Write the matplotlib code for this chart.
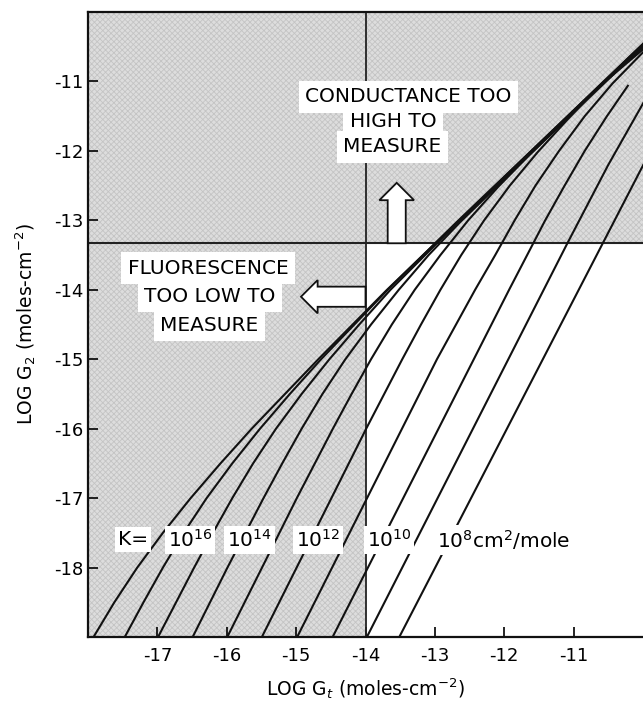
import matplotlib
matplotlib.use('Agg')
import matplotlib.pyplot as plt
from matplotlib.patches import FancyArrow

plt.rcParams['axes.unicode_minus'] = False
plt.rcParams['font.family'] = ['DejaVu Sans']
plt.rcParams['hatch.linewidth'] = 0.6

# ---- axes ranges and limits (log units) ----
x_range = [-18, -10]
y_range = [-19, -10]
fluor_limit_x = -14.0      # fluorescence too low to measure (left)
cond_limit_y = -13.33      # conductance too high to measure (above)

x_ticks = [-17, -16, -15, -14, -13, -12, -11]
y_ticks = [-11, -12, -13, -14, -15, -16, -17, -18]

# ---- curves: log G2 vs log Gt, one per K ----
k_exponents = [17, 16, 15, 14, 13, 12, 11, 10, 9, 8]

curve_k17_x = [-18.20, -17.92, -17.62, -17.29, -16.92, -16.52, -16.09, -15.64, -14.68, -13.69, -9.99]
curve_k17_y = [-19.5, -19.0, -18.5, -18.0, -17.5, -17.0, -16.5, -16.0, -15.0, -14.0, -10.45]
curve_k16_x = [-17.99, -17.47, -17.20, -16.92, -16.62, -16.29, -15.92, -15.52, -15.09, -14.64, -13.68, -12.69, -9.99]
curve_k16_y = [-20.0, -19.0, -18.5, -18.0, -17.5, -17.0, -16.5, -16.0, -15.5, -15.0, -14.0, -13.03, -10.45]
curve_k15_x = [-21.00, -16.99, -16.47, -16.20, -15.92, -15.62, -15.29, -14.92, -14.52, -14.09, -13.64, -12.68, -9.99]
curve_k15_y = [-27.0, -19.0, -18.0, -17.5, -17.0, -16.5, -16.0, -15.5, -15.0, -14.5, -14.0, -13.04, -10.46]
curve_k14_x = [-20.00, -15.99, -15.47, -15.20, -14.92, -14.62, -14.29, -13.92, -13.52, -13.09, -12.64, -11.68, -9.99]
curve_k14_y = [-26.0, -18.0, -17.0, -16.5, -16.0, -15.5, -15.0, -14.5, -14.0, -13.5, -13.03, -12.10, -10.48]
curve_k13_x = [-19.00, -14.99, -14.47, -14.20, -13.92, -13.62, -13.29, -12.92, -12.52, -12.09, -11.64, -10.68, -9.99]
curve_k13_y = [-25.0, -17.0, -16.0, -15.5, -15.0, -14.5, -14.0, -13.5, -13.0, -12.52, -12.06, -11.12, -10.50]
curve_k12_x = [-18.00, -13.99, -13.47, -13.20, -12.92, -12.62, -12.29, -11.92, -11.52, -11.09, -10.64, -9.99]
curve_k12_y = [-24.0, -16.0, -15.0, -14.5, -14.0, -13.5, -13.0, -12.5, -12.02, -11.55, -11.08, -10.53]
curve_k11_x = [-17.00, -12.97, -12.42, -12.13, -11.85, -11.55, -11.21, -10.84, -10.44, -9.99]
curve_k11_y = [-23.0, -15.0, -14.0, -13.5, -13.0, -12.5, -12.0, -11.5, -11.03, -10.57]
curve_k10_x = [-16.00, -11.93, -11.41, -11.13, -10.84, -10.52, -10.21]
curve_k10_y = [-22.0, -14.0, -13.0, -12.5, -12.0, -11.5, -11.05]
curve_k9_x = [-14.50, -13.98, -11.09, -10.50, -9.99]
curve_k9_y = [-20.0, -19.0, -13.33, -12.20, -11.30]
curve_k8_x = [-14.03, -9.99]
curve_k8_y = [-20.0, -12.19]

curves_x = [curve_k17_x, curve_k16_x, curve_k15_x, curve_k14_x, curve_k13_x,
            curve_k12_x, curve_k11_x, curve_k10_x, curve_k9_x, curve_k8_x]
curves_y = [curve_k17_y, curve_k16_y, curve_k15_y, curve_k14_y, curve_k13_y,
            curve_k12_y, curve_k11_y, curve_k10_y, curve_k9_y, curve_k8_y]

# ---- K labels ----
k_label_texts = ['10$^{16}$', '10$^{14}$', '10$^{12}$', '10$^{10}$', '10$^{8}$cm$^{2}$/mole']
k_label_x = [-16.53, -15.67, -14.68, -13.66, -12.97]
k_label_y = -17.6

# ---- region annotations ----
cond_lines = ['CONDUCTANCE TOO', 'HIGH TO', 'MEASURE']
cond_x = [-13.38, -13.60, -13.61]
cond_y = [-11.22, -11.58, -11.94]
fluor_lines = ['FLUORESCENCE', 'TOO LOW TO', 'MEASURE']
fluor_x = [-16.27, -16.24, -16.25]
fluor_y = [-13.69, -14.09, -14.51]

fig = plt.figure(figsize=(6.43, 7.05), dpi=100)
ax = fig.add_axes([88 / 643, 68 / 705, 555 / 643, 625 / 705])
ax.set_xlim(*x_range)
ax.set_ylim(*y_range)

shade_fc = '#dddddd'
shade_hatch = '#c4c4c4'
# left region (fluorescence too low)
ax.fill_between([x_range[0], fluor_limit_x], y_range[0], y_range[1],
                facecolor=shade_fc, edgecolor=shade_hatch, hatch='xxxxxx', linewidth=0, zorder=0)
# top region (conductance too high)
ax.fill_between([fluor_limit_x, x_range[1]], cond_limit_y, y_range[1],
                facecolor=shade_fc, edgecolor=shade_hatch, hatch='xxxxxx', linewidth=0, zorder=0)

ax.axvline(fluor_limit_x, color='#222222', lw=1.3, zorder=2)
ax.axhline(cond_limit_y, color='#222222', lw=1.5, zorder=2)

for cx, cy in zip(curves_x, curves_y):
    ax.plot(cx, cy, color='#111111', lw=1.5, solid_capstyle='butt', zorder=3)

kbox = dict(boxstyle='square,pad=0.15', fc='white', ec='none')
abox = dict(boxstyle='square,pad=0.32', fc='white', ec='none')
fs = 14.5

ax.text(-17.35, k_label_y, 'K=', fontsize=fs, ha='center', va='center', bbox=kbox, zorder=5)
for i, (t, xx) in enumerate(zip(k_label_texts, k_label_x)):
    ha = 'left' if i == len(k_label_texts) - 1 else 'center'
    ax.text(xx, k_label_y, t, fontsize=fs, ha=ha, va='center', bbox=kbox, zorder=5)

for t, xx, yy in zip(cond_lines, cond_x, cond_y):
    ax.text(xx, yy, t, fontsize=fs, ha='center', va='center', bbox=abox, zorder=5)
for t, xx, yy in zip(fluor_lines, fluor_x, fluor_y):
    ax.text(xx, yy, t, fontsize=fs, ha='center', va='center', bbox=abox, zorder=5)

# hollow arrows
ax.add_patch(FancyArrow(-13.55, cond_limit_y, 0, 0.87, width=0.26, head_width=0.5,
                        head_length=0.25, length_includes_head=True,
                        fc='white', ec='#111111', lw=1.3, zorder=4))
ax.add_patch(FancyArrow(fluor_limit_x, -14.10, -0.93, 0, width=0.29, head_width=0.48,
                        head_length=0.24, length_includes_head=True,
                        fc='white', ec='#111111', lw=1.3, zorder=4))

ax.set_xticks(x_ticks)
ax.set_yticks(y_ticks)
ax.set_xticklabels([str(v) for v in x_ticks])
ax.set_yticklabels([str(v) for v in y_ticks])
ax.tick_params(direction='in', length=7, width=1.2, labelsize=13)
ax.tick_params(axis='x', pad=7)
ax.tick_params(axis='y', pad=3)

for s in ['left', 'bottom', 'top']:
    ax.spines[s].set_linewidth(1.6)
    ax.spines[s].set_color('#111111')
ax.spines['right'].set_visible(False)

ax.set_xlabel('LOG G$_t$ (moles-cm$^{-2}$)', fontsize=13.5, labelpad=8)
ax.set_ylabel('LOG G$_2$ (moles-cm$^{-2}$)', fontsize=13.5, labelpad=12)

fig.savefig('out.png', dpi=100)
